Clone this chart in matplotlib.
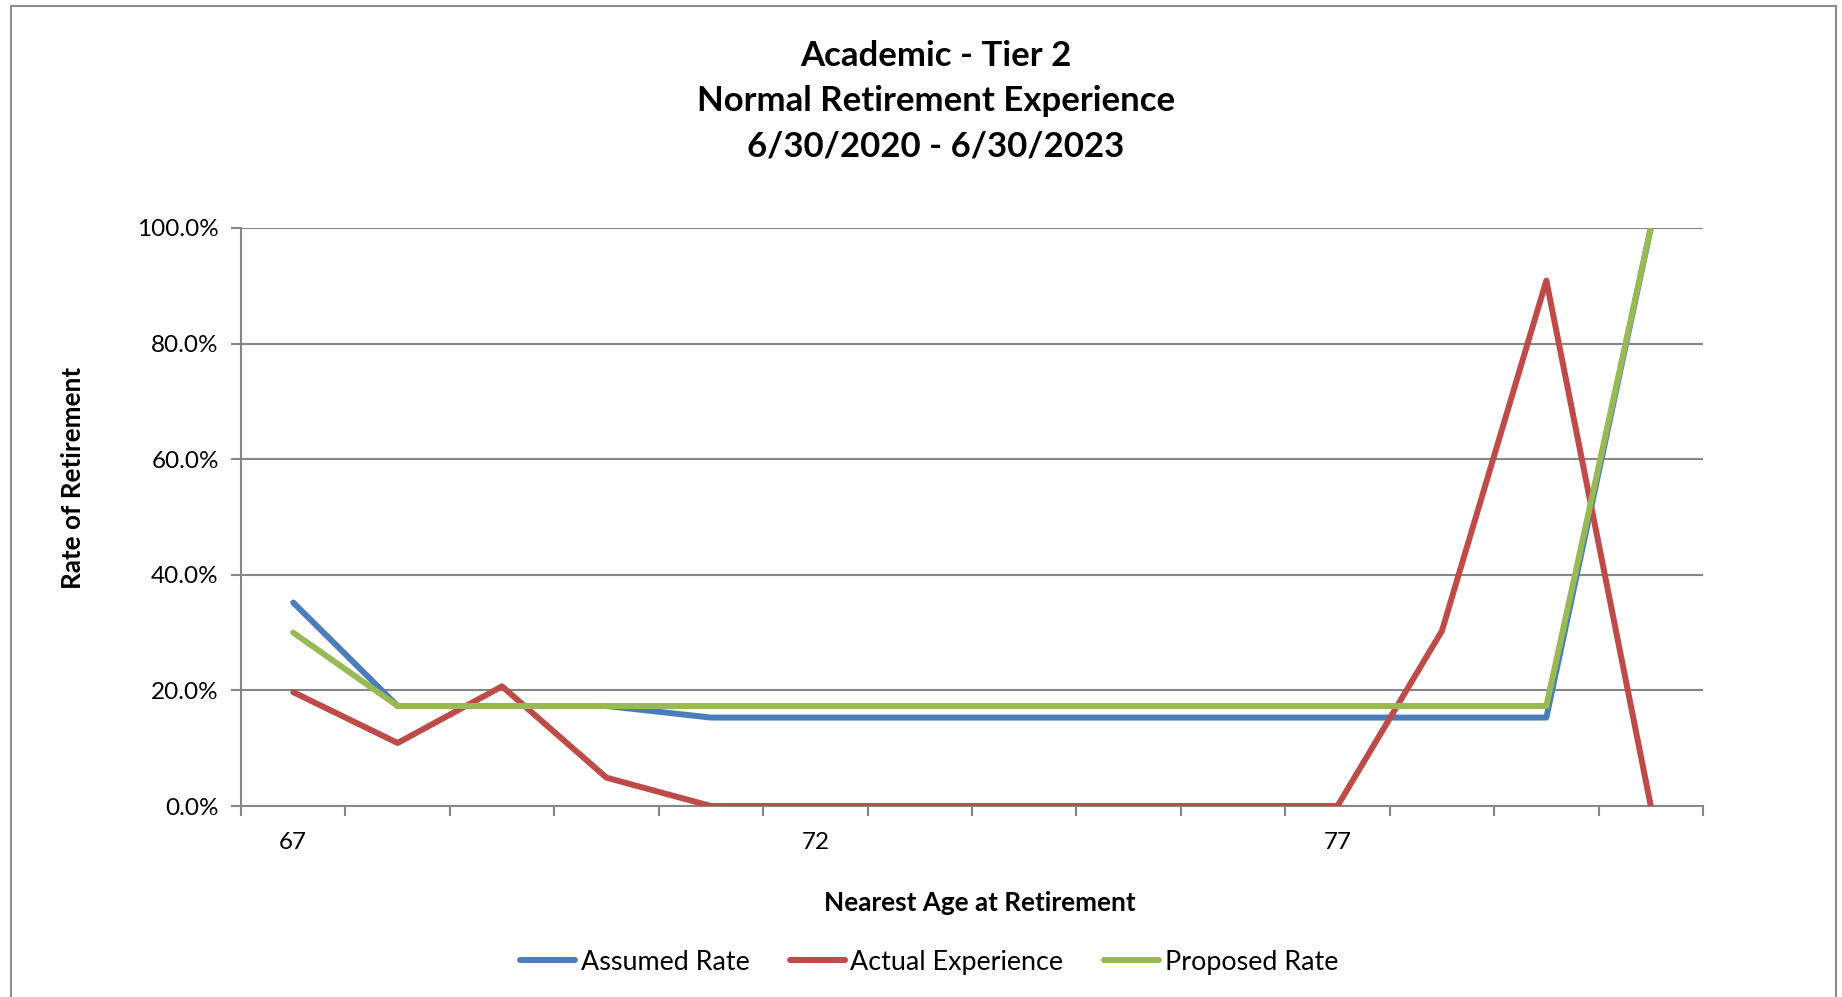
import matplotlib
matplotlib.use("Agg")
import matplotlib.pyplot as plt
from matplotlib.patches import Rectangle
from matplotlib.ticker import FixedLocator, FuncFormatter

plt.rcParams['font.family'] = ['Lato', 'DejaVu Sans']

ages = [67, 68, 69, 70, 71, 72, 73, 74, 75, 76, 77, 78, 79, 80]
assumed_rate = [35.2, 17.3, 17.3, 17.3, 15.3, 15.3, 15.3, 15.3, 15.3, 15.3, 15.3, 15.3, 15.3, 100.0]
actual_experience = [19.7, 10.9, 20.7, 4.9, 0.0, 0.0, 0.0, 0.0, 0.0, 0.0, 0.0, 30.3, 90.9, 0.0]
proposed_rate = [30.0, 17.3, 17.3, 17.3, 17.3, 17.3, 17.3, 17.3, 17.3, 17.3, 17.3, 17.3, 17.3, 100.0]
labelled_ages = [67, 72, 77]
y_ticks = [0, 20, 40, 60, 80, 100]

title_lines = ["Academic - Tier 2", "Normal Retirement Experience", "6/30/2020 - 6/30/2023"]

W, H = 1842, 997
fig = plt.figure(figsize=(W / 100, H / 100), dpi=100)
fig.patch.set_facecolor('white')

# chart-area frame
fig.patches.append(Rectangle((11 / W, -0.02), (1836 - 11) / W, 1 - 6 / H + 0.02,
                             transform=fig.transFigure, fill=False,
                             edgecolor='#8c8c8c', linewidth=1.5))

left, right = 241 / W, 1703 / W
bottom, top = 1 - 806 / H, 1 - 228 / H
ax = fig.add_axes([left, bottom, right - left, top - bottom])

x = list(range(len(ages)))
colors = {'Assumed Rate': '#4A7EBB', 'Actual Experience': '#BE4B48', 'Proposed Rate': '#98B954'}
for name, vals in [('Assumed Rate', assumed_rate),
                   ('Actual Experience', actual_experience),
                   ('Proposed Rate', proposed_rate)]:
    ax.plot(x, vals, color=colors[name], linewidth=4.3, label=name,
            solid_joinstyle='round', solid_capstyle='round', zorder=3)

ax.set_xlim(-0.5, len(ages) - 0.5)
ax.set_ylim(0, 100)

grid_c = '#868686'
ax.set_yticks(y_ticks)
ax.yaxis.set_major_formatter(FuncFormatter(lambda v, p: f"{v:.1f}%"))
ax.yaxis.grid(True, color=grid_c, linewidth=1.5, zorder=0)
ax.tick_params(axis='y', length=7, width=1.5, color=grid_c, pad=9, labelsize=17.5)

# tick marks between categories, labels at selected ages
ax.xaxis.set_major_locator(FixedLocator([i - 0.5 for i in range(len(ages) + 1)]))
ax.xaxis.set_major_formatter(FuncFormatter(lambda v, p: ""))
ax.xaxis.set_minor_locator(FixedLocator([ages.index(a) for a in labelled_ages]))
ax.xaxis.set_minor_formatter(FuncFormatter(lambda v, p: str(ages[int(round(v))])))
ax.tick_params(axis='x', which='major', length=7, width=1.5, color=grid_c, direction='out')
ax.tick_params(axis='x', which='minor', length=0, pad=19, labelsize=17.5)

for s in ['top', 'right']:
    ax.spines[s].set_visible(False)
for s in ['left', 'bottom']:
    ax.spines[s].set_color(grid_c)
    ax.spines[s].set_linewidth(1.5)

# titles
for i, line in enumerate(title_lines):
    fig.text(936 / W, 1 - (56 + 45.2 * i) / H, line, ha='center', va='center',
             fontsize=25, fontweight='bold')

fig.text(73 / W, 1 - 478 / H, "Rate of Retirement", rotation=90, ha='center', va='center',
         fontsize=18.8, fontweight='bold')
fig.text(980 / W, 1 - 903 / H, "Nearest Age at Retirement", ha='center', va='center',
         fontsize=18.8, fontweight='bold')

handles, labels = ax.get_legend_handles_labels()
fig.legend(handles, labels, loc='center', bbox_to_anchor=(929 / W, 1 - 962 / H), ncol=3,
           frameon=False, fontsize=19.4, handlelength=2.05, handletextpad=0.2,
           columnspacing=1.5)

fig.savefig('out.png', dpi=100, facecolor='white')
